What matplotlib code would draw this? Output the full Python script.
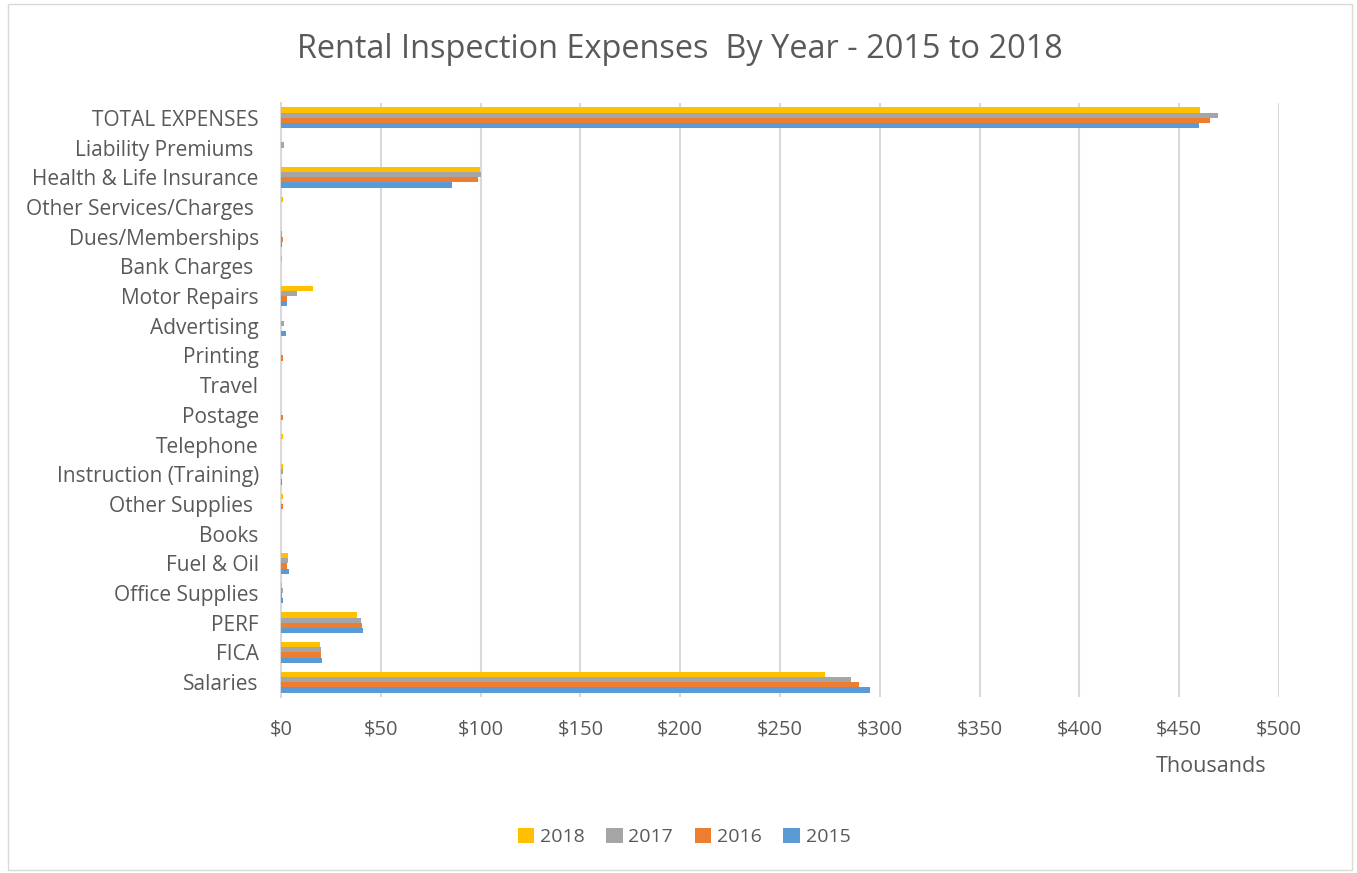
import matplotlib
matplotlib.use("Agg")
import matplotlib.pyplot as plt
from matplotlib.patches import Rectangle
import numpy as np

plt.rcParams['font.family'] = ['Open Sans', 'DejaVu Sans']

categories = [
    "Salaries", "FICA", "PERF", "Office Supplies", "Fuel & Oil", "Books",
    "Other Supplies ", "Instruction (Training)", "Telephone", "Postage",
    "Travel", "Printing", "Advertising", "Motor Repairs", "Bank Charges ",
    "Dues/Memberships", "Other Services/Charges ", "Health & Life Insurance",
    "Liability Premiums ", "TOTAL EXPENSES",
]

# values in thousands of dollars, same order as categories
y2018 = [272.5, 19.5, 38.0, 0.3, 3.3, 0.2, 1.0, 1.0, 1.0, 0.0,
         0.0, 0.0, 0.0, 16.2, 0.3, 0.0, 0.8, 99.7, 0.0, 460.4]
y2017 = [285.6, 20.0, 40.0, 1.2, 3.3, 0.0, 0.0, 1.0, 0.0, 0.0,
         0.0, 0.0, 1.7, 8.2, 0.0, 0.3, 0.0, 100.0, 1.5, 469.2]
y2016 = [289.6, 20.0, 40.5, 0.7, 2.8, 0.0, 0.8, 0.0, 0.0, 0.8,
         0.0, 1.0, 0.0, 2.8, 0.0, 0.8, 0.0, 98.7, 0.0, 465.4]
y2015 = [295.2, 20.5, 41.0, 1.2, 4.0, 0.0, 0.0, 0.6, 0.0, 0.0,
         0.0, 0.0, 2.3, 2.8, 0.0, 0.5, 0.0, 85.8, 0.0, 460.0]

series = [("2018", y2018, "#FFC000"), ("2017", y2017, "#A5A5A5"),
          ("2016", y2016, "#ED7D31"), ("2015", y2015, "#5B9BD5")]

xticks = [0, 50, 100, 150, 200, 250, 300, 350, 400, 450, 500]
xticklabels = ["$" + str(t) for t in xticks]

text_color = "#595959"

fig = plt.figure(figsize=(13.57, 8.73), dpi=100)
fig.patch.set_facecolor("white")
fig.patches.append(Rectangle((8 / 1357, 3 / 873), 1344 / 1357, 866 / 873,
                             transform=fig.transFigure, fill=False,
                             edgecolor="#D9D9D9", linewidth=1.0))

ax = fig.add_axes([281 / 1357, 1 - 697 / 873, 998 / 1357, 594 / 873])

ypos = np.arange(len(categories))
h = 0.175
offsets = [1.5 * h, 0.5 * h, -0.5 * h, -1.5 * h]
for (label, vals, color), off in zip(series, offsets):
    ax.barh(ypos + off, vals, height=h, color=color, label=label, zorder=3)

ax.set_xlim(0, 500)
ax.set_ylim(-0.5, len(categories) - 0.5)
ax.set_xticks(xticks)
ax.set_xticklabels(xticklabels)
ax.set_yticks(ypos)
ax.set_yticklabels(categories)
ax.tick_params(axis="x", length=0, pad=16, labelsize=14.5, labelcolor=text_color)
ax.tick_params(axis="y", length=0, pad=16, labelsize=15, labelcolor=text_color)
ax.grid(axis="x", color="#D9D9D9", linewidth=1.5, zorder=0)
for s in ["top", "right", "bottom"]:
    ax.spines[s].set_visible(False)
ax.spines["left"].set_color("#D9D9D9")
ax.spines["left"].set_linewidth(1.5)

fig.text(680 / 1357, 1 - 50 / 873, "Rental Inspection Expenses  By Year - 2015 to 2018",
         ha="center", va="center", fontsize=23.4, color=text_color)
fig.text(1211 / 1357, 1 - 767 / 873, "Thousands", ha="center", va="center",
         fontsize=15.5, color=text_color)

handles, labels = ax.get_legend_handles_labels()
fig.legend(handles, labels, loc="center", bbox_to_anchor=(684 / 1357, 1 - 837 / 873),
           ncol=4, frameon=False, fontsize=14, labelcolor=text_color,
           handlelength=0.85, handleheight=0.85, handletextpad=0.3, columnspacing=1.1)

fig.savefig("out.png", dpi=100)
